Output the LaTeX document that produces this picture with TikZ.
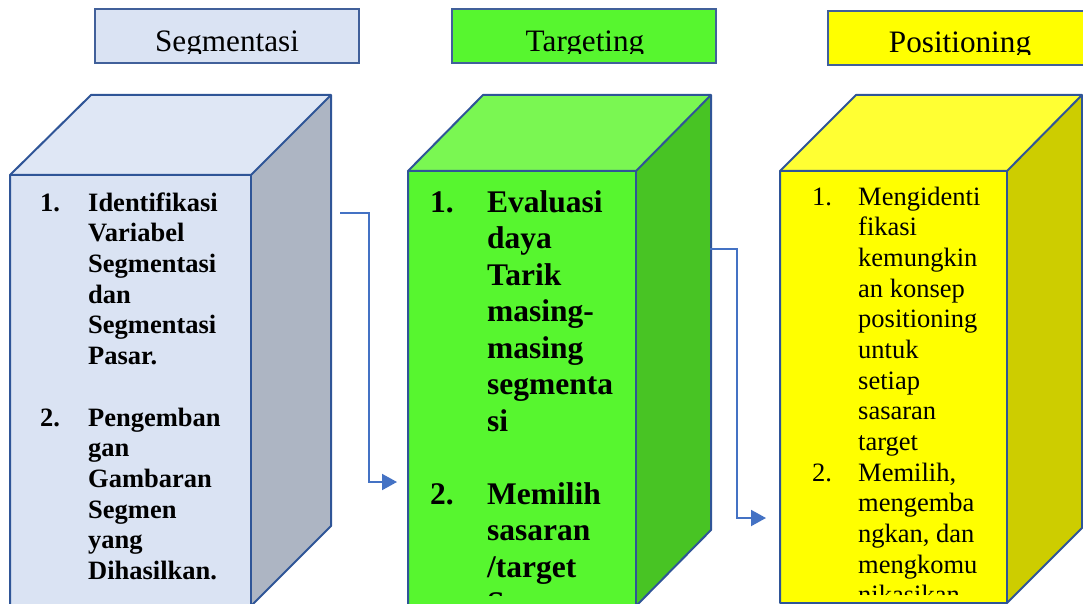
\documentclass[tikz,border=0pt]{standalone}
\usepackage{fontspec}
\setmainfont{Liberation Serif}
\usetikzlibrary{arrows.meta}
\definecolor{edgec}{HTML}{2F5597}
\definecolor{titleedge}{HTML}{41609A}
\definecolor{arrowc}{HTML}{4472C4}
\definecolor{blueF}{HTML}{DAE3F3}
\definecolor{blueT}{HTML}{DFE7F5}
\definecolor{blueS}{HTML}{ADB5C3}
\definecolor{greenF}{HTML}{57F62F}
\definecolor{greenT}{HTML}{7AF752}
\definecolor{greenS}{HTML}{48C424}
\definecolor{yelF}{HTML}{FFFF00}
\definecolor{yelT}{HTML}{FFFF33}
\definecolor{yelS}{HTML}{CDCD00}
\newcommand{\lines}[1]{\parbox[t]{200pt}{\raggedright #1}}
\begin{document}
\begin{tikzpicture}[x=1pt,y=-1pt,
  cubeedge/.style={draw=edgec,line width=2pt,line join=round},
  titlebox/.style={draw=titleedge,line width=2pt,inner sep=0pt,anchor=north west},
  titletext/.style={inner sep=0pt,anchor=base,font=\fontsize{31.2}{36}\selectfont},
  listA/.style={inner sep=0pt,anchor=base west,font=\fontsize{26.5}{30.7}\selectfont\bfseries},
  listB/.style={inner sep=0pt,anchor=base west,font=\fontsize{31.5}{36.5}\selectfont\bfseries},
  listC/.style={inner sep=0pt,anchor=base west,font=\fontsize{26.5}{30.7}\selectfont},
  flow/.style={draw=arrowc,line width=2pt,-{Triangle[length=15pt,width=16pt]}}
]
\useasboundingbox (0,0) rectangle (1083,604);
\clip (0,0) rectangle (1083,604);

% ---- title boxes ----
\path[titlebox,fill=blueF] (95,9) rectangle (359,63);
\path[titlebox,fill=greenF] (452,9) rectangle (716,63);
\path[titlebox,fill=yelF] (828,11) rectangle (1090,65);
\begin{scope}
  \clip (95,9) rectangle (359,53.5);
  \node[titletext] (tseg) at (227,52) {Segmentasi};
\end{scope}
\begin{scope}
  \clip (452,9) rectangle (716,53.5);
  \node[titletext] (ttar) at (585,52) {Targeting};
\end{scope}
\begin{scope}
  \clip (828,11) rectangle (1083,54.5);
  \node[titletext] (tpos) at (960,53) {Positioning};
\end{scope}

% ---- cube 1 ----
\fill[blueS] (251,175) -- (331,95) -- (331,526) -- (251,606) -- cycle;
\fill[blueT] (10,175) -- (91,95) -- (331,95) -- (251,175) -- cycle;
\fill[blueF] (10,175) rectangle (251,606);
\draw[cubeedge] (10,606) -- (10,175) -- (91,95) -- (331,95) -- (331,526) -- (251,606) -- cycle;
\draw[cubeedge] (10,175) -- (251,175) -- (331,95);
\draw[cubeedge] (251,175) -- (251,606);

% ---- cube 2 ----
\fill[greenS] (636,171) -- (711,95) -- (711,530) -- (636,606) -- cycle;
\fill[greenT] (408,171) -- (483,95) -- (711,95) -- (636,171) -- cycle;
\fill[greenF] (408,171) rectangle (636,606);
\draw[cubeedge] (408,606) -- (408,171) -- (483,95) -- (711,95) -- (711,530) -- (636,606) -- cycle;
\draw[cubeedge] (408,171) -- (636,171) -- (711,95);
\draw[cubeedge] (636,171) -- (636,606);

% ---- cube 3 ----
\fill[yelS] (1007,171) -- (1082,95) -- (1082,528) -- (1007,603) -- cycle;
\fill[yelT] (780,171) -- (856,95) -- (1082,95) -- (1007,171) -- cycle;
\fill[yelF] (780,171) rectangle (1007,603);
\draw[cubeedge] (780,603) -- (780,171) -- (856,95) -- (1082,95) -- (1082,528) -- (1007,603) -- cycle;
\draw[cubeedge] (780,171) -- (1007,171) -- (1082,95);
\draw[cubeedge] (1007,171) -- (1007,603);

% ---- texts cube 1 ----
\node[listA] (n1a) at (40,211) {1.};
\node[listA] (t1a) at (88,211) {\lines{Identifikasi\\Variabel\\Segmentasi\\dan\\Segmentasi\\Pasar.}};
\node[listA] (n1b) at (40,426) {2.};
\node[listA] (t1b) at (88,426) {\lines{Pengemban\\gan\\Gambaran\\Segmen\\yang\\Dihasilkan.}};

% ---- texts cube 2 ----
\begin{scope}
  \clip (408,171) rectangle (636,595);
  \node[listB] (n2a) at (430,212) {1.};
  \node[listB] (t2a) at (487,212) {\lines{Evaluasi\\daya\\Tarik\\masing-\\masing\\segmenta\\si}};
  \node[listB] (n2b) at (430,504) {2.};
  \node[listB] (t2b) at (487,504) {\lines{Memilih\\sasaran\\/target\\Segmen}};
\end{scope}

% ---- texts cube 3 ----
\begin{scope}
  \clip (780,171) rectangle (1007,594.5);
  \node[listC] (n3a) at (812,205) {1.};
  \node[listC] (t3a) at (858,205) {\lines{Mengidenti\\fikasi\\kemungkin\\an konsep\\positioning\\untuk\\setiap\\sasaran\\target}};
  \node[listC] (n3b) at (812,481) {2.};
  \node[listC] (t3b) at (858,481) {\lines{Memilih,\\mengemba\\ngkan, dan\\mengkomu\\nikasikan}};
\end{scope}

% ---- connectors ----
\coordinate (a1s) at (340,213);
\coordinate (a1e) at (397,482);
\coordinate (a2s) at (710,249);
\coordinate (a2e) at (766,518);
\draw[flow] (a1s) -- (369,213) -- (369,482) -- (a1e);
\draw[flow] (a2s) -- (737,249) -- (737,518) -- (a2e);
\end{tikzpicture}
\end{document}
